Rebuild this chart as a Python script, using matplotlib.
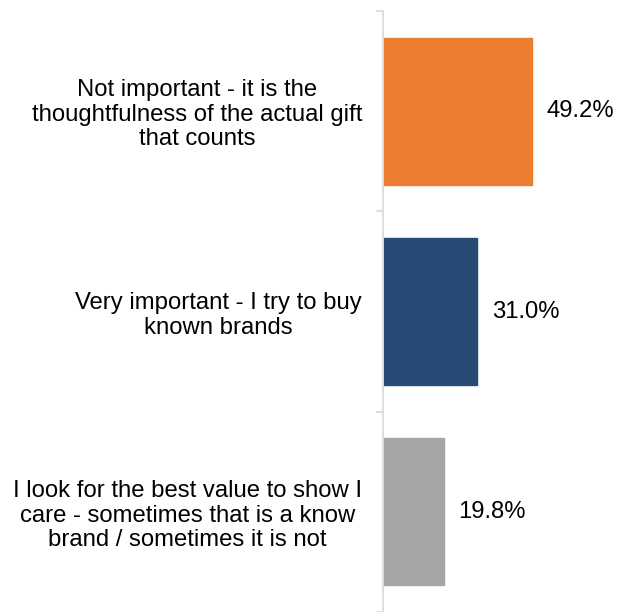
import matplotlib
matplotlib.use("Agg")
import matplotlib.pyplot as plt
from matplotlib.ticker import FixedLocator

plt.rcParams['font.family'] = ['Liberation Sans', 'DejaVu Sans']

categories = [
    "Not important - it is the\nthoughtfulness of the actual gift\nthat counts",
    "Very important - I try to buy\nknown brands",
    "I look for the best value to show I\ncare - sometimes that is a know\nbrand / sometimes it is not",
]
values = [49.2, 31.0, 19.8]
colors = ["#ED7D31", "#264B74", "#A5A5A5"]

W, H, DPI = 617, 612, 100
FS = 17.2
fig = plt.figure(figsize=(W / DPI, H / DPI), dpi=DPI)
ax = fig.add_axes([383 / W, 0, 234 / W, 601 / H])

pos = list(range(len(values)))
bars = ax.barh(pos, values, height=0.735, color=colors, edgecolor=colors,
               linewidth=1.0, joinstyle="round")

ax.set_ylim(len(values) - 0.5, -0.5)
px_per_unit = 3.0
x0 = -1.2 / px_per_unit
ax.set_xlim(x0, x0 + 234 / px_per_unit)

for b, v in zip(bars, values):
    ax.annotate(f"{v:.1f}%", xy=(v, b.get_y() + b.get_height() / 2),
                xytext=(10.5, 0), textcoords="offset points",
                va="center", ha="left", fontsize=FS, color="#000000")

ax.set_yticks(pos)
ax.set_yticklabels(categories, fontsize=FS, color="#000000")
for lbl in ax.get_yticklabels():
    lbl.set_multialignment("center")
    lbl.set_linespacing(1.15)
ax.tick_params(axis="y", which="major", length=0, pad=15)
ax.yaxis.set_minor_locator(FixedLocator([p - 0.5 for p in range(len(values) + 1)]))
ax.tick_params(axis="y", which="minor", length=5, width=1.2, color="#D9D9D9", direction="out")

ax.set_xticks([])
for s in ["top", "right", "bottom"]:
    ax.spines[s].set_visible(False)
ax.spines["left"].set_color("#D9D9D9")
ax.spines["left"].set_linewidth(1.2)

fig.savefig("out.png", dpi=DPI)
